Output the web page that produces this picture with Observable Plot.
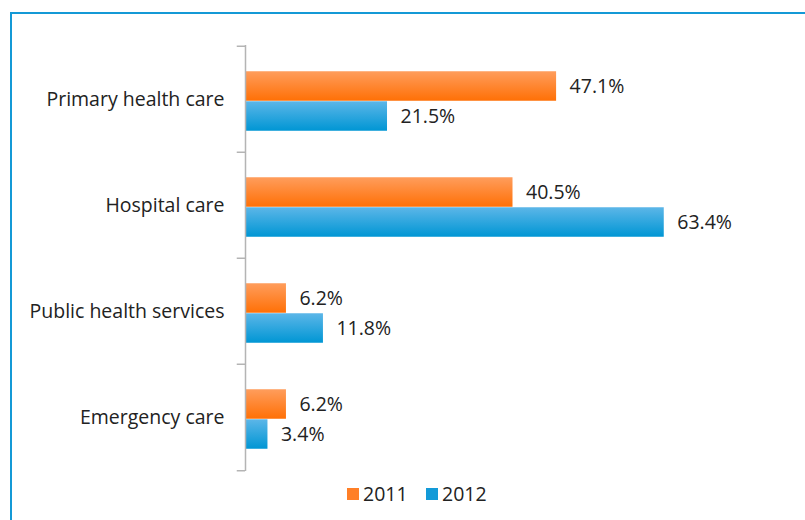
<!DOCTYPE html>
<html>
<head>
<meta charset="utf-8">
<script src="https://cdn.jsdelivr.net/npm/d3@7"></script>
<script src="https://cdn.jsdelivr.net/npm/@observablehq/plot@0.6"></script>
<style>
  html, body { margin: 0; padding: 0; background: #fff; }
  #wrap { position: relative; width: 805px; height: 520px; overflow: hidden; background: #fff; }
  #frame { position: absolute; left: 10px; top: 12px; width: 900px; height: 600px; border: 2px solid #1499d6; box-sizing: border-box; }
  #chart { position: absolute; left: 0; top: 0; }
  #chart svg text { font-size: 19.5px; }
  #legend { position: absolute; left: 0; top: 0; width: 805px; height: 520px;
            font-family: "Open Sans", sans-serif; font-size: 19.5px; color: #222; pointer-events: none; }
  .box { position: absolute; width: 12px; height: 12px; top: 488px; }
  .lab { position: absolute; top: 480px; line-height: 27px; }
</style>
</head>
<body>
<div id="wrap">
  <div id="frame"></div>
  <div id="chart"></div>
  <div id="legend"></div>
</div>
<script>
const categories = ["Primary health care", "Hospital care", "Public health services", "Emergency care"];
const years = ["2011", "2012"];
const values2011 = [47.1, 40.5, 6.2, 6.2];
const values2012 = [21.5, 63.4, 11.8, 3.4];
const colorsTop = ["#ff9d5c", "#5cb6e8"];
const colorsBottom = ["#ff7006", "#0096d4"];
const swatchColors = ["#ff7f27", "#139ad8"];

const data = [];
categories.forEach((c, i) => {
  data.push({category: c, year: "2011", value: values2011[i]});
  data.push({category: c, year: "2012", value: values2012[i]});
});
const d11 = data.filter(d => d.year === "2011");
const d12 = data.filter(d => d.year === "2012");
const fmt = v => v.toFixed(1) + "%";

const chart = Plot.plot({
  width: 805,
  height: 520,
  marginLeft: 245,
  marginTop: 45,
  marginBottom: 49,
  marginRight: 31.6,
  style: {fontFamily: "'Open Sans', sans-serif", fontSize: "19.5px", color: "#222", background: "transparent"},
  x: {domain: [0, 80], axis: null},
  y: {domain: categories, padding: 0, tickSize: 0, tickPadding: 21, label: null},
  marks: [
    Plot.barX(d11, {x: "value", y: "category", fill: "url(#g2011)", insetTop: 25.25, insetBottom: 51.25}),
    Plot.barX(d12, {x: "value", y: "category", fill: "url(#g2012)", insetTop: 55.25, insetBottom: 21.25}),
    Plot.text(d11, {x: "value", y: "category", text: d => fmt(d.value), textAnchor: "start", dx: 13, dy: -13, fill: "#222"}),
    Plot.text(d12, {x: "value", y: "category", text: d => fmt(d.value), textAnchor: "start", dx: 13, dy: 17, fill: "#222"}),
    Plot.ruleX([0], {stroke: "#b4b4b4", strokeWidth: 1.5}),
    Plot.ruleY(categories, {y: d => d, x1: -1.25, x2: 0, dy: -53.25, stroke: "#b4b4b4", strokeWidth: 1.5}),
    Plot.ruleY(categories.slice(-1), {y: d => d, x1: -1.25, x2: 0, dy: 53.25, stroke: "#b4b4b4", strokeWidth: 1.5})
  ]
});

const defs = d3.select(chart).insert("defs", ":first-child");
years.forEach((y, i) => {
  const g = defs.append("linearGradient").attr("id", "g" + y).attr("x1", 0).attr("y1", 0).attr("x2", 0).attr("y2", 1);
  g.append("stop").attr("offset", "0%").attr("stop-color", colorsTop[i]);
  g.append("stop").attr("offset", "100%").attr("stop-color", colorsBottom[i]);
});
document.getElementById("chart").appendChild(chart);

const legend = document.getElementById("legend");
const boxLeft = [347, 426];
const labLeft = [363, 442];
years.forEach((y, i) => {
  const box = document.createElement("div");
  box.className = "box";
  box.style.left = boxLeft[i] + "px";
  box.style.background = swatchColors[i];
  legend.appendChild(box);
  const lab = document.createElement("div");
  lab.className = "lab";
  lab.style.left = labLeft[i] + "px";
  lab.textContent = y;
  legend.appendChild(lab);
});
</script>
</body>
</html>
